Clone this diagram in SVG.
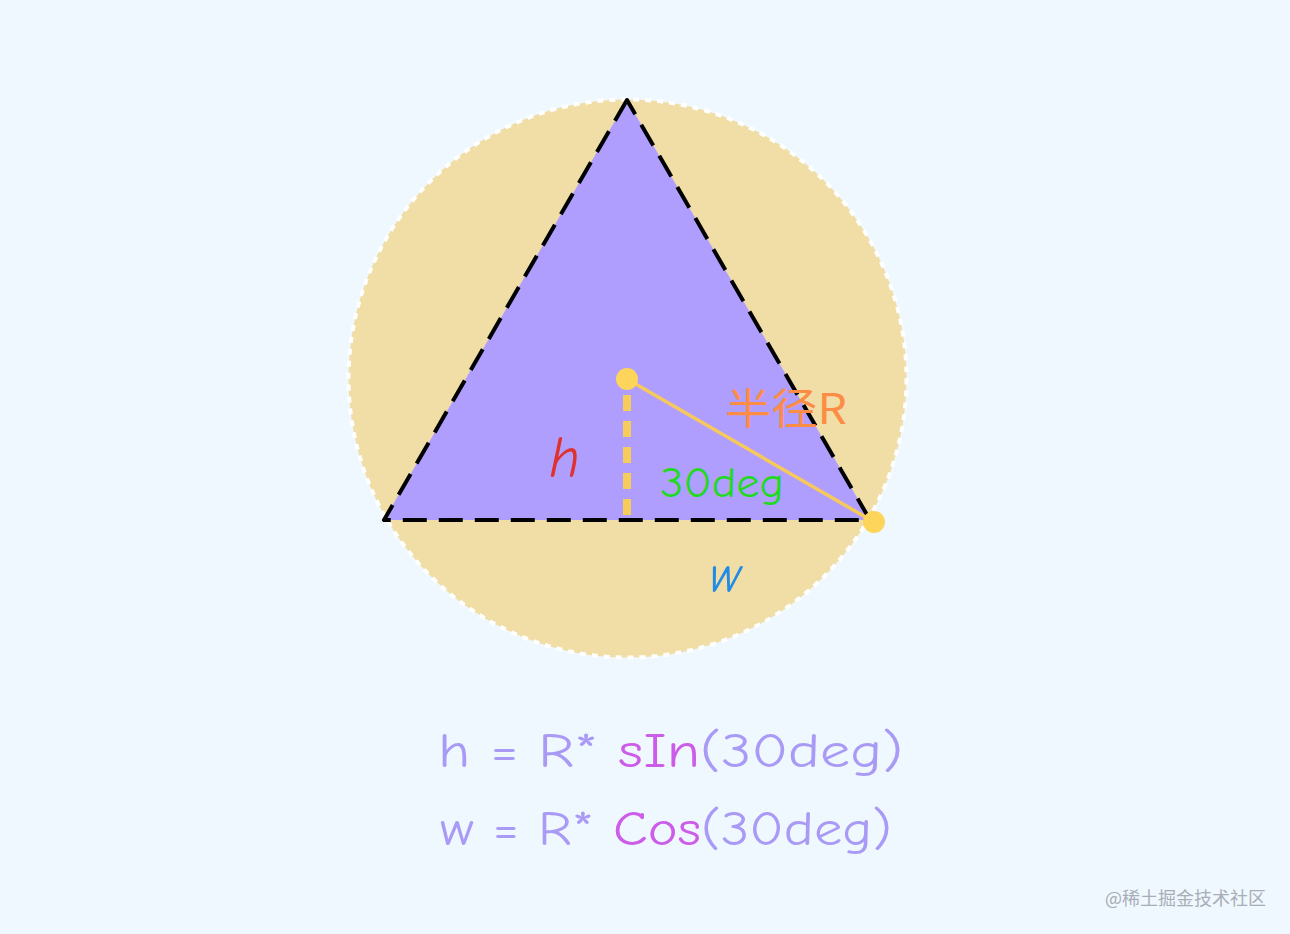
<svg xmlns="http://www.w3.org/2000/svg" width="1290" height="934" viewBox="0 0 1290 934">
<style>
.hand{font-family:"Comic Neue","Liberation Sans","DejaVu Sans",sans-serif;}
.lbl{font-size:42px;}
.f{font-size:48px;fill:#a99bf5;}
.fn{fill:#cc5de8;}
</style>
<rect x="0" y="0" width="1290" height="934" fill="#f0f8ff"/>
<g id="circle">
<circle cx="627.5" cy="378.5" r="279" fill="#f0dea6"/>
<circle cx="627.5" cy="378.5" r="279" fill="none" stroke="#ffffff" stroke-width="4" stroke-dasharray="6 6"/>
</g>
<g id="triangle">
<polygon points="627,100 384,520 870,520" fill="#b09eff" stroke="#000" stroke-width="4" stroke-dasharray="24 12" stroke-linejoin="round"/>
</g>
<g id="connectors">
<line x1="627" y1="395" x2="627" y2="520" stroke="#f7cc5a" stroke-width="8" stroke-dasharray="16 10"/>
<line x1="627" y1="379" x2="874" y2="522" stroke="#f7c95a" stroke-width="3.5"/>
</g>
<g id="center-dot"><circle cx="627" cy="379" r="11" fill="#fcd55a"/></g>
<g id="corner-dot"><circle cx="874" cy="522" r="11" fill="#fcd55a"/></g>
<g id="labels" class="hand">
<text x="549" y="477" font-size="58" font-style="italic" fill="#e03131">h</text>
<text x="660" y="497" class="lbl" fill="#22d922" textLength="124" lengthAdjust="spacingAndGlyphs">30deg</text>
<text x="725" y="424" class="lbl" fill="#fd8c45" font-family="'Noto Sans CJK SC',sans-serif" textLength="122" lengthAdjust="spacingAndGlyphs">半径R</text>
<text x="710" y="592" font-size="52" font-style="italic" fill="#228be6">w</text>
</g>
<g id="formulas" class="hand">
<text x="438" y="767" class="f" textLength="465" lengthAdjust="spacingAndGlyphs">h = R* <tspan class="fn">sIn</tspan>(30deg)</text>
<text x="440" y="845" class="f" textLength="452" lengthAdjust="spacingAndGlyphs">w = R* <tspan class="fn">Cos</tspan>(30deg)</text>
</g>
<g id="watermark">
<text x="1105" y="905" font-family="'Noto Sans CJK SC',sans-serif" font-size="18" fill="#a8adb6">@稀土掘金技术社区</text>
</g>
</svg>
